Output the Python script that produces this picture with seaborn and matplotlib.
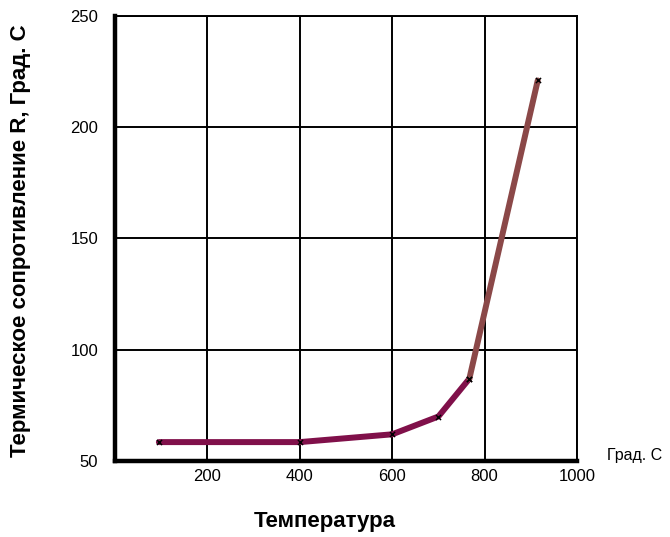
import pandas as pd
import seaborn as sns
from matplotlib import pyplot as plt

# Readings (temperature, Град. С -> thermal resistance R)
temp_main = [95, 400, 600, 700, 767]
res_main = [58.5, 58.5, 62, 70, 87]
temp_tail = [767, 915]
res_tail = [87, 221]

x_ticks = [200, 400, 600, 800, 1000]
y_ticks = [50, 100, 150, 200, 250]

df = pd.concat([
    pd.DataFrame({'t': temp_main, 'r': res_main, 'part': 'main'}),
    pd.DataFrame({'t': temp_tail, 'r': res_tail, 'part': 'tail'}),
])

sns.set_style('white')
plt.rcParams['font.family'] = ['Liberation Sans', 'DejaVu Sans']
plt.rcParams['text.color'] = 'black'

fig = plt.figure(figsize=(6.7, 5.37), dpi=100)
ax = fig.add_axes([0.1716, 0.1415, 0.6896, 0.8288])

sns.lineplot(data=df, x='t', y='r', hue='part', sort=False,
             palette={'main': '#80104A', 'tail': '#8B4848'},
             linewidth=4.3, legend=False, ax=ax)
sns.scatterplot(data=df, x='t', y='r', marker='x', color='black',
                s=14, linewidth=1, zorder=5, ax=ax)

ax.set_xlim(0, 1000)
ax.set_ylim(50, 250)
ax.set_xticks(x_ticks)
ax.set_yticks(y_ticks)
ax.grid(True, color='black', linewidth=1.4)
ax.set_axisbelow(True)
ax.tick_params(length=0, labelsize=12, colors='black', pad=12)
ax.tick_params(axis='x', pad=6)

for side in ['top', 'right']:
    ax.spines[side].set_linewidth(1.4)
    ax.spines[side].set_color('black')
for side in ['left', 'bottom']:
    ax.spines[side].set_linewidth(3.2)
    ax.spines[side].set_color('black')

ax.set_xlabel('Температура', fontsize=16, fontweight='bold', color='black')
ax.set_ylabel('Термическое сопротивление R, Град. С', fontsize=16,
              fontweight='bold', color='black')
ax.xaxis.set_label_coords(0.455, -0.113)
ax.yaxis.set_label_coords(-0.182, 0.495)
ax.text(1.065, 0.012, 'Град. С', transform=ax.transAxes, fontsize=11.5,
        va='center', ha='left')

fig.savefig('out.png', dpi=100)
